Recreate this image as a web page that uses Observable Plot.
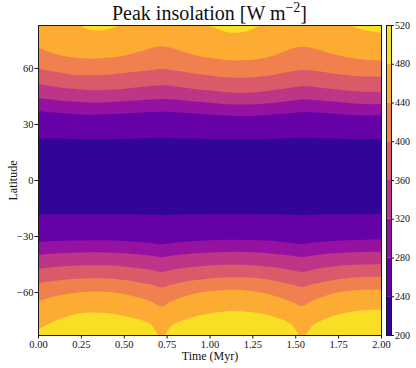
<!DOCTYPE html>
<html><head><meta charset="utf-8">
<script src="https://cdn.jsdelivr.net/npm/d3@7"></script>
<script src="https://cdn.jsdelivr.net/npm/@observablehq/plot@0.6"></script>
<style>
body{margin:0;background:#fff;}
#wrap{position:relative;width:416px;height:368px;font-family:"Liberation Serif",serif;}
#title{position:absolute;left:38px;top:0;width:343px;height:22px;line-height:26px;text-align:center;font-size:20px;color:#111;white-space:nowrap;}
#title sup{font-size:0.7em;line-height:0;}
#main,#cbar{position:absolute;left:0;top:22px;}
</style></head><body>
<div id="wrap"><div id="title">Peak insolation [W m<sup>−2</sup>]</div><div id="main"></div><div id="cbar"></div></div>
<script>
// time samples (Myr)
const time = [0, 0.1, 0.2, 0.3, 0.4, 0.5, 0.6, 0.66, 0.72, 0.78, 0.9, 1.0, 1.1, 1.2, 1.3, 1.4, 1.48, 1.54, 1.6, 1.7, 1.8, 1.9, 2.0];
// latitude of contour boundaries, northern hemisphere (level in W m-2)
const N240 = [22.4, 22.2, 22.0, 21.9, 21.9, 22.0, 22.2, 22.4, 22.5, 22.4, 22.2, 22.0, 21.8, 21.8, 21.9, 22.1, 22.3, 22.5, 22.4, 22.2, 22.0, 21.9, 21.8];
const N280 = [36.8, 36.1, 35.4, 35.0, 35.2, 35.6, 36.1, 36.4, 36.6, 36.4, 35.7, 35.0, 34.5, 34.1, 34.5, 35.2, 35.9, 36.3, 36.3, 35.7, 35.0, 34.5, 34.3];
const N320 = [43.9, 42.9, 42.0, 41.5, 41.6, 42.2, 42.7, 43.1, 43.4, 43.1, 42.2, 41.3, 40.6, 40.4, 40.7, 41.6, 42.5, 43.1, 42.9, 42.2, 41.3, 40.7, 40.6];
const N360 = [51.4, 50.0, 48.8, 48.1, 48.2, 48.9, 49.8, 50.4, 50.7, 50.4, 48.9, 47.9, 47.0, 46.6, 47.2, 48.4, 49.5, 50.2, 50.0, 48.9, 47.9, 47.2, 47.0];
const N400 = [59.7, 57.9, 56.4, 56.1, 56.4, 57.3, 58.2, 58.9, 59.5, 58.9, 57.2, 55.9, 55.0, 54.7, 55.4, 56.8, 58.2, 58.9, 58.6, 57.3, 56.1, 55.4, 55.2];
const N440 = [71.1, 67.5, 65.7, 65.0, 65.4, 66.6, 68.9, 70.7, 71.6, 70.7, 67.2, 65.4, 64.3, 64.1, 65.0, 67.5, 70.4, 71.4, 70.7, 68.0, 65.7, 64.5, 63.9];
const N480 = [88, 86.5, 85, 80.5, 80.6, 83.6, 86.5, 88, 89, 88, 85.5, 82.6, 79.3, 79.2, 82.9, 86, 88, 89, 88, 86, 83.4, 80.3, 78.8];
// southern hemisphere
const S240 = [-18.5, -18.4, -18.3, -18.3, -18.3, -18.4, -18.5, -18.6, -18.7, -18.6, -18.4, -18.3, -18.2, -18.2, -18.3, -18.4, -18.6, -18.7, -18.6, -18.4, -18.3, -18.2, -18.2];
const S280 = [-33.2, -32.7, -32.4, -32.2, -32.3, -32.6, -33.2, -33.7, -34.4, -33.7, -32.8, -32.3, -32.0, -32.0, -32.3, -32.9, -33.7, -34.3, -33.6, -32.8, -32.3, -32.0, -31.9];
const S320 = [-40.0, -39.3, -38.9, -38.7, -38.8, -39.2, -40.0, -40.6, -41.3, -40.5, -39.4, -38.8, -38.5, -38.5, -38.9, -39.7, -40.6, -41.2, -40.4, -39.4, -38.8, -38.5, -38.4];
const S360 = [-47.6, -46.6, -45.9, -45.6, -45.7, -46.3, -47.4, -48.2, -49.3, -48.1, -46.6, -45.8, -45.4, -45.4, -46.0, -47.0, -48.3, -49.2, -48.0, -46.6, -45.7, -45.3, -45.1];
const S400 = [-55.3, -54.0, -53.0, -52.6, -52.7, -53.5, -55.0, -56.0, -57.5, -55.9, -53.8, -52.7, -52.1, -52.1, -52.8, -54.3, -56.0, -57.3, -55.8, -53.9, -52.6, -52.0, -51.8];
const S440 = [-65.0, -62.3, -60.6, -59.8, -59.9, -61.0, -63.3, -65.0, -67.8, -64.8, -61.2, -59.6, -58.9, -59.0, -60.2, -62.6, -65.3, -67.5, -64.7, -61.3, -59.5, -58.8, -58.6];
const S480 = [-80.0, -75.5, -72.3, -71.0, -71.2, -72.8, -75.0, -77.5, -84.5, -78.0, -73.5, -71.5, -70.3, -70.4, -71.5, -74.0, -77.5, -84.5, -78.0, -73.5, -71.0, -69.8, -69.5];

const levels = [240, 280, 320, 360, 400, 440, 480];
const bands = [200, 240, 280, 320, 360, 400, 440, 480];
const xTicks = [0, 0.25, 0.5, 0.75, 1.0, 1.25, 1.5, 1.75, 2.0];
const yTicks = [-60, -30, 0, 30, 60];
const cbTicks = [200, 240, 280, 320, 360, 400, 440, 480, 520];
const POLE = 90;

const north = {240: N240, 280: N280, 320: N320, 360: N360, 400: N400, 440: N440, 480: N480};
const south = {240: S240, 280: S280, 320: S320, 360: S360, 400: S400, 440: S440, 480: S480};
const idx = time.map((t, i) => i);
const colorOpt = {type: "linear", scheme: "plasma", domain: [200, 520]};
const minus = d => d < 0 ? "\u2212" + Math.abs(d) : String(d);
const curve = "catmull-rom";
const fontStyle = {fontFamily: "'Liberation Serif', serif", color: "#111", background: "transparent", overflow: "visible"};

const marks = [];
// lowest band (200–240) fills the whole field, the higher bands are painted over it
marks.push(Plot.areaY(idx, {x: i => time[i], y1: -POLE, y2: POLE, fill: () => 220, clip: true}));
for (const k of levels) {
  marks.push(Plot.areaY(idx, {x: i => time[i], y1: i => north[k][i], y2: POLE, fill: () => k + 20, curve, clip: true}));
  marks.push(Plot.areaY(idx, {x: i => time[i], y1: i => south[k][i], y2: -POLE, fill: () => k + 20, curve, clip: true}));
}
marks.push(Plot.frame({stroke: "#1a1a1a", strokeWidth: 1}));
marks.push(Plot.axisX(xTicks, {tickSize: 3.5, tickPadding: 1.5, tickFormat: d => d.toFixed(2), fontSize: 10.5, label: null}));
marks.push(Plot.axisY(yTicks, {tickSize: 3.5, tickPadding: 1.5, tickFormat: minus, fontSize: 10.5, label: null}));
marks.push(Plot.text(["Time (Myr)"], {text: d => d, frameAnchor: "bottom", lineAnchor: "middle", textAnchor: "middle", dy: 21, fontSize: 12}));
marks.push(Plot.text(["Latitude"], {text: d => d, frameAnchor: "left", lineAnchor: "middle", textAnchor: "middle", dx: -25.5, rotate: -90, fontSize: 12}));

const main = Plot.plot({
  width: 416, height: 346,
  marginLeft: 38, marginRight: 35, marginTop: 3, marginBottom: 33,
  x: {domain: [0, 2], axis: null},
  y: {domain: [-83, 83], axis: null},
  color: colorOpt,
  style: fontStyle,
  marks
});
document.getElementById("main").appendChild(main);

const cbar = Plot.plot({
  width: 416, height: 346,
  marginLeft: 386, marginRight: 25, marginTop: 3, marginBottom: 33,
  y: {domain: [200, 520], axis: null},
  color: colorOpt,
  style: fontStyle,
  marks: [
    Plot.rectY(bands, {y1: d => d, y2: d => d + 40, fill: d => d + 20}),
    Plot.frame({stroke: "#1a1a1a", strokeWidth: 1}),
    Plot.axisY(cbTicks, {anchor: "right", tickSize: 2, tickPadding: 1.5, fontSize: 10, label: null})
  ]
});
document.getElementById("cbar").appendChild(cbar);
</script></body></html>
